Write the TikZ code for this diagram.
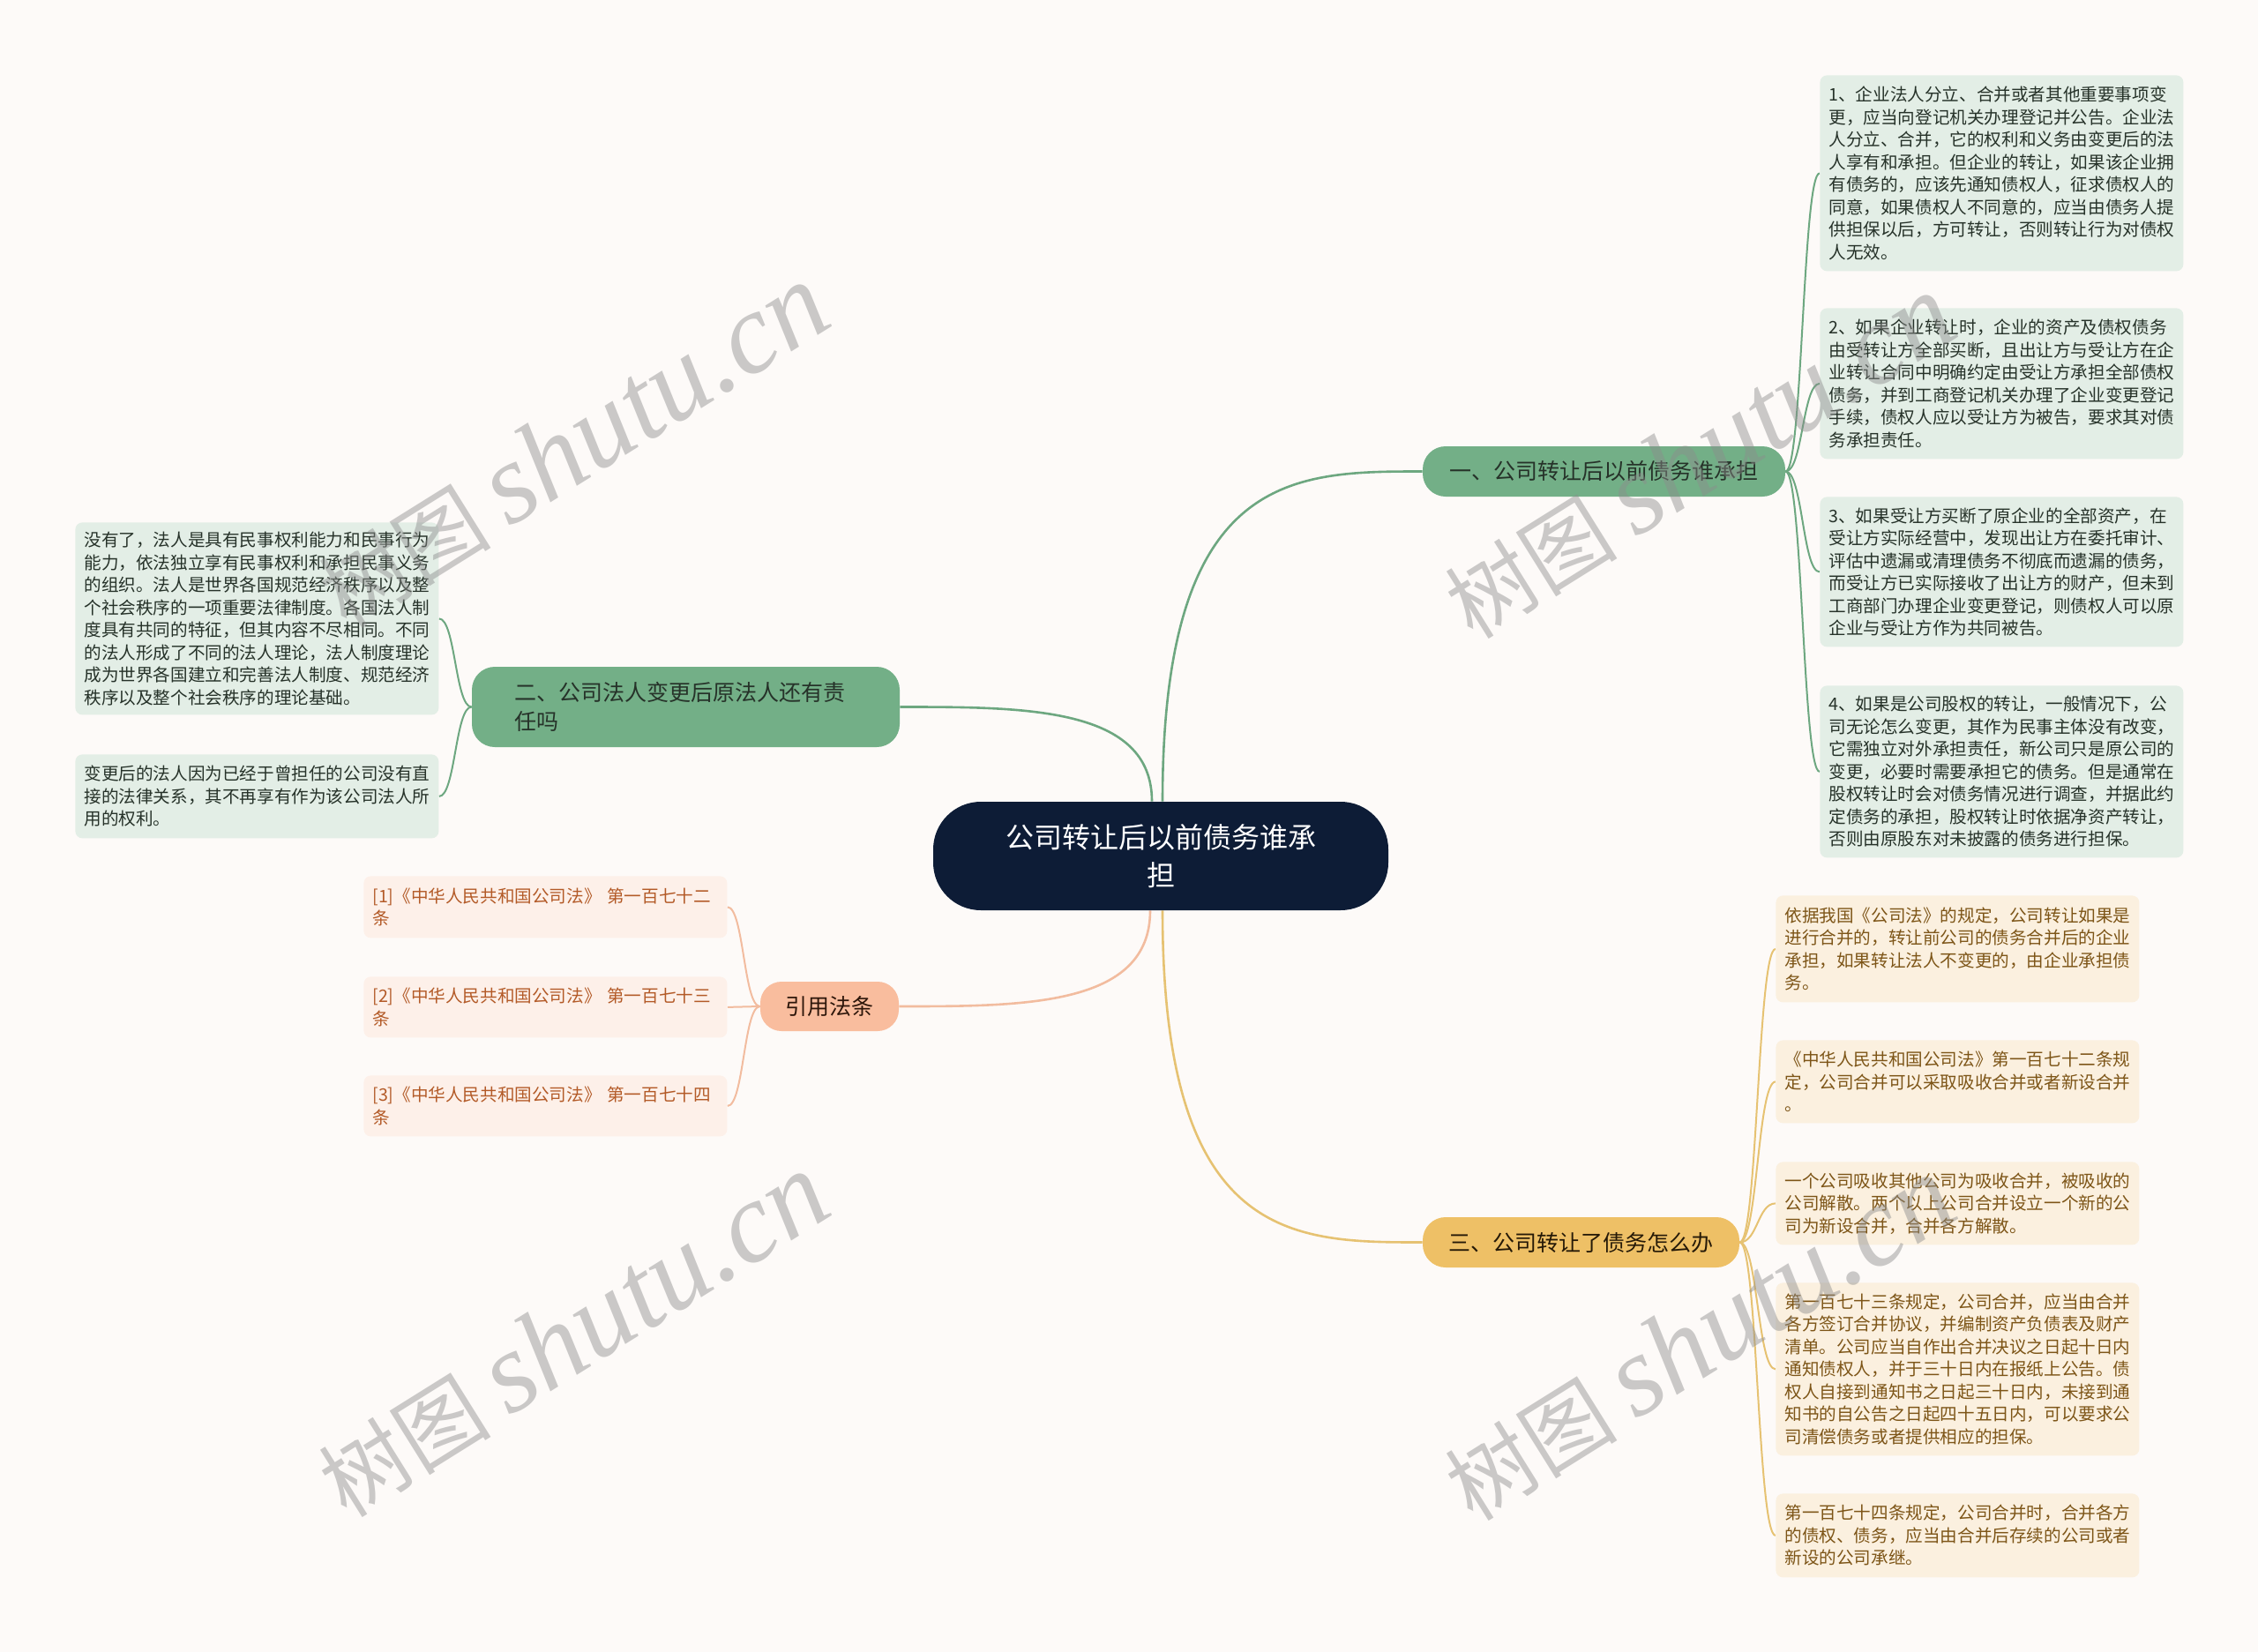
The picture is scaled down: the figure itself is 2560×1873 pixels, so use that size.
\documentclass[tikz,border=0pt]{standalone}
\usepackage{fontspec}
\setmainfont{Noto Sans CJK SC}
\newfontfamily\wmfont{Liberation Serif}
\usetikzlibrary{calc,backgrounds}
\definecolor{bgc}{HTML}{FDFAF8}
\definecolor{navy}{HTML}{0D1C36}
\definecolor{gfill}{HTML}{73AF87}
\definecolor{gedge}{HTML}{6DA780}
\definecolor{gleaf}{HTML}{E3EEE6}
\definecolor{gtext}{HTML}{263229}
\definecolor{pfill}{HTML}{F9BD9E}
\definecolor{pedge}{HTML}{F2BC9F}
\definecolor{pleaf}{HTML}{FDF0E9}
\definecolor{ptext}{HTML}{B35A27}
\definecolor{yfill}{HTML}{EEC066}
\definecolor{yedge}{HTML}{E6C272}
\definecolor{yleaf}{HTML}{FBF0DF}
\definecolor{ytext}{HTML}{7D5517}
\newcommand\mainedge[3]{\draw[#1] let \p1=(#2), \p2=(#3) in (\p1) .. controls (\x1,\y2) and ({0.5*\x1+0.5*\x2},\y2) .. (\p2);}
\newcommand\leafedge[3]{\draw[#1] let \p1=(#2), \p2=(#3) in (\p1) .. controls ({0.5*\x1+0.5*\x2},\y1) and ({0.5*\x1+0.5*\x2},\y2) .. (\p2);}
\newcommand\wmtext{\fontsize{49}{52}\selectfont 树图 {\wmfont\itshape\fontsize{65}{70}\selectfont shutu.cn}}
\tikzset{
  centerbox/.style={fill=navy, text=white, rounded corners=27pt, minimum width=258pt, minimum height=61.5pt, align=center, font=\fontsize{16}{21.5}\selectfont, inner sep=0pt},
  branchbox/.style={rounded corners=13pt, inner sep=0pt, align=center, font=\fontsize{12.5}{16.5}\selectfont},
  leafbox/.style={anchor=north west, rounded corners=4pt, text width=196pt, inner xsep=5pt, inner ysep=0pt, align=left, font=\fontsize{9.8}{12.75}\selectfont},
  gleafbox/.style={leafbox, fill=gleaf, text=gtext},
  yleafbox/.style={leafbox, fill=yleaf, text=ytext},
  pleafbox/.style={leafbox, fill=pleaf, text=ptext},
  gmain/.style={draw=gedge, line width=1.3pt},
  pmain/.style={draw=pedge, line width=1.3pt},
  ymain/.style={draw=yedge, line width=1.3pt},
  gsub/.style={draw=gedge, line width=1pt},
  psub/.style={draw=pedge, line width=1pt},
  ysub/.style={draw=yedge, line width=1pt},
  wm/.style={text=black!45, opacity=0.45, rotate=32, inner sep=0pt}
}
\begin{document}
\begin{tikzpicture}[x=0.5pt,y=-0.5pt]
\useasboundingbox (0,0) rectangle (2560,1873);

% center
\node[centerbox] (c) at (1316,970.5) {公司转让后以前债务谁承\\担};
% branches
\node[branchbox, fill=gfill, text=gtext, minimum width=205.5pt, minimum height=28.5pt] (b1) at (1818.5,534.5) {一、公司转让后以前债务谁承担};
\node[branchbox, fill=gfill, text=gtext, text width=194.5pt, inner xsep=24pt, minimum height=45.5pt, align=left] (b2) at (777.5,801.5) {二、公司法人变更后原法人还有责\\任吗};
\node[branchbox, fill=pfill, text=black!75!ptext, minimum width=78.5pt, minimum height=28pt, rounded corners=12pt] (b3) at (940.5,1141) {引用法条};
\node[branchbox, fill=yfill, text=black!70!ytext, minimum width=179.5pt, minimum height=28.5pt] (b4) at (1792.5,1408.5) {三、公司转让了债务怎么办};

% leaves branch 1
\node[gleafbox, minimum height=111pt] (g1) at (2063,85) {1、企业法人分立、合并或者其他重要事项变\\更，应当向登记机关办理登记并公告。企业法\\人分立、合并，它的权利和义务由变更后的法\\人享有和承担。但企业的转让，如果该企业拥\\有债务的，应该先通知债权人，征求债权人的\\同意，如果债权人不同意的，应当由债务人提\\供担保以后，方可转让，否则转让行为对债权\\人无效。};
\node[gleafbox, minimum height=85.5pt] (g2) at (2063,349) {2、如果企业转让时，企业的资产及债权债务\\由受转让方全部买断，且出让方与受让方在企\\业转让合同中明确约定由受让方承担全部债权\\债务，并到工商登记机关办理了企业变更登记\\手续，债权人应以受让方为被告，要求其对债\\务承担责任。};
\node[gleafbox, minimum height=85pt] (g3) at (2063,563) {3、如果受让方买断了原企业的全部资产，在\\受让方实际经营中，发现出让方在委托审计、\\评估中遗漏或清理债务不彻底而遗漏的债务，\\而受让方已实际接收了出让方的财产，但未到\\工商部门办理企业变更登记，则债权人可以原\\企业与受让方作为共同被告。};
\node[gleafbox, minimum height=97.5pt] (g4) at (2063,777) {4、如果是公司股权的转让，一般情况下，公\\司无论怎么变更，其作为民事主体没有改变，\\它需独立对外承担责任，新公司只是原公司的\\变更，必要时需要承担它的债务。但是通常在\\股权转让时会对债务情况进行调查，并据此约\\定债务的承担，股权转让时依据净资产转让，\\否则由原股东对未披露的债务进行担保。};

% leaves branch 4
\node[yleafbox, minimum height=60.5pt] (y1) at (2013,1015) {依据我国《公司法》的规定，公司转让如果是\\进行合并的，转让前公司的债务合并后的企业\\承担，如果转让法人不变更的，由企业承担债\\务。};
\node[yleafbox, minimum height=47pt] (y2) at (2013,1179) {《中华人民共和国公司法》第一百七十二条规\\定，公司合并可以采取吸收合并或者新设合并\\。};
\node[yleafbox, minimum height=47pt] (y3) at (2013,1317) {一个公司吸收其他公司为吸收合并，被吸收的\\公司解散。两个以上公司合并设立一个新的公\\司为新设合并，合并各方解散。};
\node[yleafbox, minimum height=98pt] (y4) at (2013,1454) {第一百七十三条规定，公司合并，应当由合并\\各方签订合并协议，并编制资产负债表及财产\\清单。公司应当自作出合并决议之日起十日内\\通知债权人，并于三十日内在报纸上公告。债\\权人自接到通知书之日起三十日内，未接到通\\知书的自公告之日起四十五日内，可以要求公\\司清偿债务或者提供相应的担保。};
\node[yleafbox, minimum height=47.5pt] (y5) at (2013,1693) {第一百七十四条规定，公司合并时，合并各方\\的债权、债务，应当由合并后存续的公司或者\\新设的公司承继。};

% leaves branch 2
\node[gleafbox, minimum height=109pt] (l1) at (85,592) {没有了，法人是具有民事权利能力和民事行为\\能力，依法独立享有民事权利和承担民事义务\\的组织。法人是世界各国规范经济秩序以及整\\个社会秩序的一项重要法律制度。各国法人制\\度具有共同的特征，但其内容不尽相同。不同\\的法人形成了不同的法人理论，法人制度理论\\成为世界各国建立和完善法人制度、规范经济\\秩序以及整个社会秩序的理论基础。};
\node[gleafbox, minimum height=47.5pt] (l2) at (85,855) {变更后的法人因为已经于曾担任的公司没有直\\接的法律关系，其不再享有作为该公司法人所\\用的权利。};

% leaves branch 3
\node[pleafbox, minimum height=35pt] (r1) at (412,993) {[1]《中华人民共和国公司法》 第一百七十二\\条};
\node[pleafbox, minimum height=34.5pt] (r2) at (412,1107) {[2]《中华人民共和国公司法》 第一百七十三\\条};
\node[pleafbox, minimum height=34.5pt] (r3) at (412,1219) {[3]《中华人民共和国公司法》 第一百七十四\\条};

\begin{pgfonlayer}{background}
\fill[bgc] (0,0) rectangle (2560,1873);
% main edges
\mainedge{gmain}{[xshift=1pt]c.north}{b1.west}
\mainedge{gmain}{[xshift=-5pt]c.north}{b2.east}
\mainedge{pmain}{[xshift=-6pt]c.south}{b3.east}
\mainedge{ymain}{[xshift=1pt]c.south}{b4.west}
% leaf edges
\foreach \nd in {g1,g2,g3,g4}{\leafedge{gsub}{b1.east}{\nd.west}}
\foreach \nd in {y1,y2,y3,y4,y5}{\leafedge{ysub}{b4.east}{\nd.west}}
\foreach \nd in {l1,l2}{\leafedge{gsub}{b2.west}{\nd.east}}
\foreach \nd in {r1,r2,r3}{\leafedge{psub}{b3.west}{\nd.east}}
\end{pgfonlayer}

% watermarks
\node[wm] (w1) at (649,506) {\wmtext};
\node[wm] (w2) at (1926,518) {\wmtext};
\node[wm] (w3) at (649,1514) {\wmtext};
\node[wm] (w4) at (1926,1518) {\wmtext};
\end{tikzpicture}
\end{document}
